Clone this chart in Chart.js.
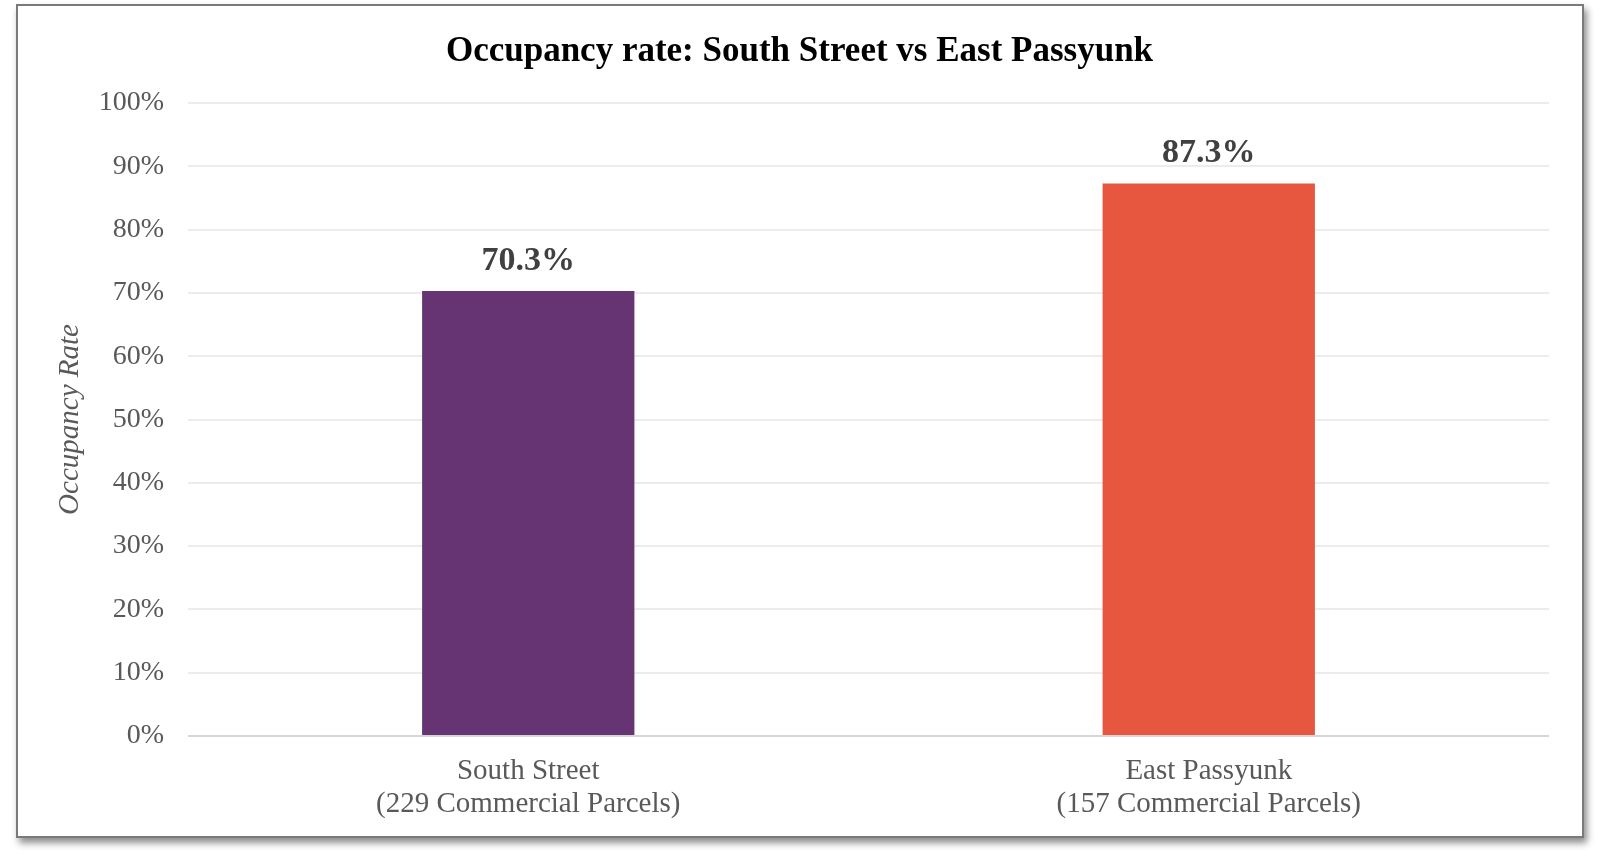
<!DOCTYPE html>
<html lang="en">
<head>
    <meta charset="UTF-8">
    <title>Occupancy rate: South Street vs East Passyunk</title>
    <script src="https://cdn.jsdelivr.net/npm/chart.js"></script>
    <style>
        body {
            margin: 0;
            background-color: #fff;
        }
        #frame {
            position: absolute;
            left: 16px;
            top: 4px;
            width: 1564px;
            height: 830px;
            border: 2px solid #7a7a7a;
            box-shadow: 3px 5px 7px rgba(0, 0, 0, 0.45);
            background-color: #fff;
        }
        #wrap {
            position: absolute;
            left: 0;
            top: 0;
            width: 1600px;
            height: 866px;
        }
    </style>
</head>
<body>
    <div id="frame"></div>
    <div id="wrap"><canvas id="occChart" width="1600" height="866"></canvas></div>

    <script>
        const categories = [
            ['South Street', '(229 Commercial Parcels)'],
            ['East Passyunk', '(157 Commercial Parcels)']
        ];
        const occupancy = [70.3, 87.3];
        const barColors = ['#673473', '#E7563E'];

        const serif = "'Liberation Serif', 'Times New Roman', serif";

        // draws the value above each bar
        const valueLabels = {
            id: 'valueLabels',
            afterDatasetsDraw(chart) {
                const ctx = chart.ctx;
                const meta = chart.getDatasetMeta(0);
                ctx.save();
                ctx.font = 'bold 34px ' + serif;
                ctx.fillStyle = '#404040';
                ctx.textAlign = 'center';
                ctx.textBaseline = 'middle';
                meta.data.forEach((bar, i) => {
                    ctx.fillText(occupancy[i].toFixed(1) + '%', bar.x, bar.y - 30);
                });
                ctx.restore();
            }
        };

        new Chart(document.getElementById('occChart'), {
            type: 'bar',
            data: {
                labels: categories,
                datasets: [{
                    data: occupancy,
                    backgroundColor: barColors,
                    barPercentage: 0.312,
                    categoryPercentage: 1
                }]
            },
            options: {
                responsive: false,
                animation: false,
                layout: { padding: { left: 50, right: 51, top: 0, bottom: 30 } },
                plugins: {
                    legend: { display: false },
                    tooltip: { enabled: false },
                    title: {
                        display: true,
                        text: 'Occupancy rate: South Street vs East Passyunk',
                        color: '#000',
                        font: { family: serif, size: 35, weight: 'bold' },
                        padding: { top: 31, bottom: 30 }
                    }
                },
                scales: {
                    x: {
                        grid: { display: false },
                        border: { display: false },
                        ticks: {
                            color: '#595959',
                            font: { family: serif, size: 29, lineHeight: 1.13 },
                            padding: 11,
                            maxRotation: 0
                        },
                        afterFit(scale) { scale.height = 100; }
                    },
                    y: {
                        min: 0,
                        max: 100,
                        border: { display: false },
                        grid: {
                            drawTicks: false,
                            lineWidth: 2,
                            color: ctx => ctx.tick && ctx.tick.value === 0 ? '#d6d6d6' : '#ececec'
                        },
                        ticks: {
                            stepSize: 10,
                            color: '#595959',
                            font: { family: serif, size: 28 },
                            padding: 24,
                            callback: v => v + '%'
                        },
                        title: {
                            display: true,
                            text: 'Occupancy Rate',
                            color: '#595959',
                            font: { family: serif, size: 29, style: 'italic' },
                            padding: 3
                        },
                        afterFit(scale) { scale.width = 138; }
                    }
                }
            },
            plugins: [valueLabels]
        });
    </script>
</body>
</html>
